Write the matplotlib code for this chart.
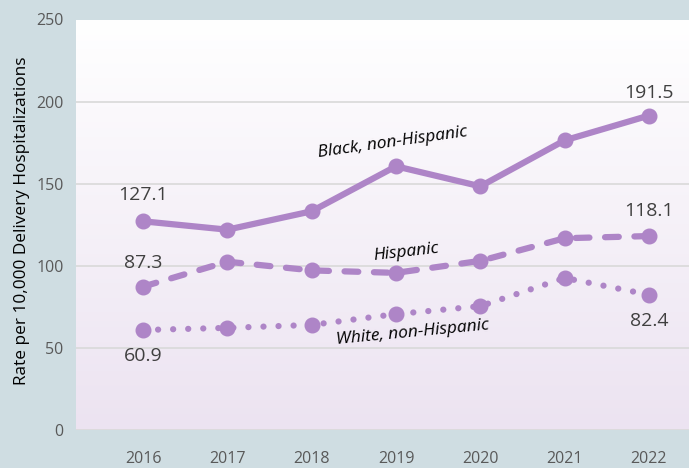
import matplotlib
matplotlib.use("Agg")
import matplotlib.pyplot as plt
import numpy as np
from matplotlib.colors import LinearSegmentedColormap

years = [2016, 2017, 2018, 2019, 2020, 2021, 2022]
black = [127.1, 122.0, 133.2, 160.6, 148.4, 176.4, 191.5]
hispanic = [87.3, 102.5, 97.2, 95.7, 103.0, 116.8, 118.1]
white = [60.9, 62.2, 64.0, 70.6, 75.4, 92.6, 82.4]
series_names = ["Black, non-Hispanic", "Hispanic", "White, non-Hispanic"]
yticks = [0, 50, 100, 150, 200, 250]
ylabel = "Rate per 10,000 Delivery Hospitalizations"

FONT = "Open Sans"
LINE = "#ae85c7"
plt.rcParams['font.family'] = [FONT, 'DejaVu Sans']

fig = plt.figure(figsize=(6.89, 4.68), dpi=100)
fig.patch.set_facecolor("#cfdde2")
ax = fig.add_axes([76/689, 1-430/468, 1-76/689, (430-19.5)/468])

# gradient background
cmap = LinearSegmentedColormap.from_list("g", ["#ffffff", "#ece3f1"])
grad = np.linspace(0, 1, 256).reshape(-1, 1)
ax.imshow(grad, cmap=cmap, aspect="auto", extent=[0, 1, 0, 1],
          transform=ax.transAxes, origin="upper", zorder=0)

ax.set_xlim(2016 - 67/84.33, 2022 + 40/84.33)
ax.set_ylim(0, 250)
ax.set_yticks(yticks)
ax.set_xticks(years)
ax.grid(axis="y", color="#d9d9d9", linewidth=1.2, zorder=1)
for s in ax.spines.values():
    s.set_visible(False)
ax.tick_params(length=0, labelsize=11.5, labelcolor="#595959")
ax.tick_params(axis="y", pad=9)
ax.tick_params(axis="x", pad=15)

lw = 4.5
ms = 10.5
ax.plot(years, black, color=LINE, lw=lw, marker="o", ms=ms,
        solid_capstyle="round", zorder=3)
ax.plot(years, hispanic, color=LINE, lw=lw, marker="o", ms=ms,
        linestyle=(0, (2.2, 2.5)), dash_capstyle="round", zorder=3)
ax.plot(years, white, color=LINE, lw=lw, marker="o", ms=ms,
        linestyle=(0, (0.01, 2.4)), dash_capstyle="round", zorder=3)

def lab(x, y, dy):
    ax.annotate(f"{y:.1f}", (x, y), xytext=(0, dy), textcoords="offset pixels",
                ha="center", va="center", fontsize=14, color="#404040", zorder=4)

lab(years[0], black[0], 26)
lab(years[-1], black[-1], 23)
lab(years[0], hispanic[0], 24)
lab(years[-1], hispanic[-1], 25)
lab(years[0], white[0], -26)
lab(years[-1], white[-1], -26)

ax.text(2018.96, 175, series_names[0], rotation=8, ha="center", va="center",
        fontsize=12.5, style="italic", color="black", zorder=4)
ax.text(2019.12, 108.5, series_names[1], rotation=6.5, ha="center", va="center",
        fontsize=12.5, style="italic", color="black", zorder=4)
ax.text(2019.20, 59.1, series_names[2], rotation=5.5, ha="center", va="center",
        fontsize=12.5, style="italic", color="black", zorder=4)

fig.text(22/689, 1-221/468, ylabel, rotation=90, ha="center", va="center",
         fontsize=12.4, color="black")

fig.savefig("out.png", dpi=100)
